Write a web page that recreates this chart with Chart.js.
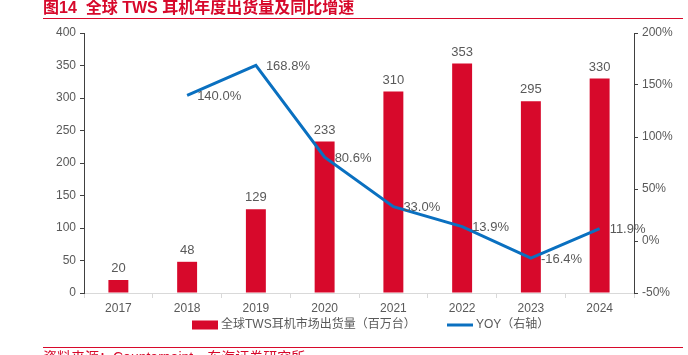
<!DOCTYPE html>
<html>
<head>
<meta charset="utf-8">
<script src="https://cdn.jsdelivr.net/npm/chart.js@4.4.0/dist/chart.umd.min.js"></script>
<style>
  html, body { margin: 0; padding: 0; background: #fff; }
  #wrap { position: relative; width: 688px; height: 355px; }
</style>
</head>
<body>
<div id="wrap"><canvas id="c" width="688" height="355"></canvas></div>
<script>
const titleText = '图14  全球 TWS 耳机年度出货量及同比增速';
const sourceText = '资料来源：Counterpoint，东海证券研究所';
const categories = ['2017', '2018', '2019', '2020', '2021', '2022', '2023', '2024'];
const shipments = [20, 48, 129, 233, 310, 353, 295, 330];
const yoy = [null, 140.0, 168.8, 80.6, 33.0, 13.9, -16.4, 11.9];
const barLabel = '全球TWS耳机市场出货量（百万台）';
const lineLabel = 'YOY（右轴）';

const FONT = "'Liberation Sans', 'Noto Sans CJK SC', Arial, sans-serif";
const RED = '#D7092B';
const BLUE = '#0A70C0';
const GRAY = '#595959';

const decor = {
  id: 'decor',
  afterDatasetsDraw(chart) {
    const ctx = chart.ctx;
    ctx.save();
    const mb = chart.getDatasetMeta(0);
    ctx.font = '13px ' + FONT;
    ctx.fillStyle = GRAY;
    ctx.textAlign = 'center';
    ctx.textBaseline = 'bottom';
    mb.data.forEach((el, i) => {
      ctx.fillText(String(shipments[i]), el.x, el.y - 5);
    });
    const ml = chart.getDatasetMeta(1);
    ctx.textAlign = 'left';
    ctx.textBaseline = 'middle';
    ml.data.forEach((el, i) => {
      if (yoy[i] === null) return;
      ctx.fillText(yoy[i].toFixed(1) + '%', el.x + 10, el.y + 1);
    });
    ctx.restore();
  },
  afterDraw(chart) {
    const ctx = chart.ctx;
    ctx.save();
    ctx.font = 'bold 16px ' + FONT;
    ctx.fillStyle = RED;
    ctx.textAlign = 'left';
    ctx.textBaseline = 'alphabetic';
    ctx.fillText(titleText, 43, 13);
    ctx.strokeStyle = RED;
    ctx.lineWidth = 1;
    ctx.beginPath();
    ctx.moveTo(43, 18.5); ctx.lineTo(683, 18.5);
    ctx.moveTo(43, 347.5); ctx.lineTo(683, 347.5);
    ctx.stroke();
    ctx.font = '14px ' + FONT;
    ctx.textBaseline = 'top';
    ctx.fillText(sourceText, 43, 351);
    const ly = 325;
    ctx.font = '12px ' + FONT;
    ctx.fillStyle = RED;
    ctx.fillRect(192, ly - 4.5, 26, 9);
    ctx.fillStyle = GRAY;
    ctx.textBaseline = 'middle';
    ctx.fillText(barLabel, 221, ly);
    ctx.strokeStyle = BLUE;
    ctx.lineWidth = 3;
    ctx.beginPath();
    ctx.moveTo(447, ly); ctx.lineTo(473, ly);
    ctx.stroke();
    ctx.fillStyle = GRAY;
    ctx.fillText(lineLabel, 476, ly);
    ctx.restore();
  }
};

new Chart(document.getElementById('c'), {
  data: {
    labels: categories,
    datasets: [
      {
        type: 'bar',
        label: barLabel,
        data: shipments,
        backgroundColor: RED,
        yAxisID: 'y',
        order: 2,
        categoryPercentage: 1,
        barPercentage: 0.29
      },
      {
        type: 'line',
        label: lineLabel,
        data: yoy,
        borderColor: BLUE,
        backgroundColor: BLUE,
        borderWidth: 3,
        pointRadius: 0,
        tension: 0,
        yAxisID: 'y1',
        order: 1
      }
    ]
  },
  options: {
    responsive: false,
    animation: false,
    devicePixelRatio: 1,
    layout: { padding: { top: 33, left: 0, right: 0, bottom: 42 } },
    plugins: {
      legend: { display: false },
      title: { display: false },
      tooltip: { enabled: false }
    },
    scales: {
      x: {
        offset: true,
        grid: { display: true, offset: true, drawOnChartArea: false, drawTicks: true, tickLength: 5, color: '#D9D9D9' },
        border: { display: true, color: '#D9D9D9' },
        ticks: { color: GRAY, font: { family: FONT, size: 12 }, padding: 3 },
        afterFit(s) { s.height = 20; }
      },
      y: {
        position: 'left',
        min: 0, max: 400,
        ticks: { stepSize: 50, color: GRAY, font: { family: FONT, size: 12 }, padding: 4 },
        grid: { display: true, drawOnChartArea: false, drawTicks: true, tickLength: 4, color: '#404040' },
        border: { display: true, color: '#404040' },
        afterFit(s) { s.width = 84; }
      },
      y1: {
        position: 'right',
        min: -50, max: 200,
        ticks: { stepSize: 50, color: GRAY, font: { family: FONT, size: 12 }, padding: 4, callback: v => v + '%' },
        grid: { display: true, drawOnChartArea: false, drawTicks: true, tickLength: 4, color: '#404040' },
        border: { display: true, color: '#404040' },
        afterFit(s) { s.width = 54; }
      }
    }
  },
  plugins: [decor]
});
</script>
</body>
</html>
